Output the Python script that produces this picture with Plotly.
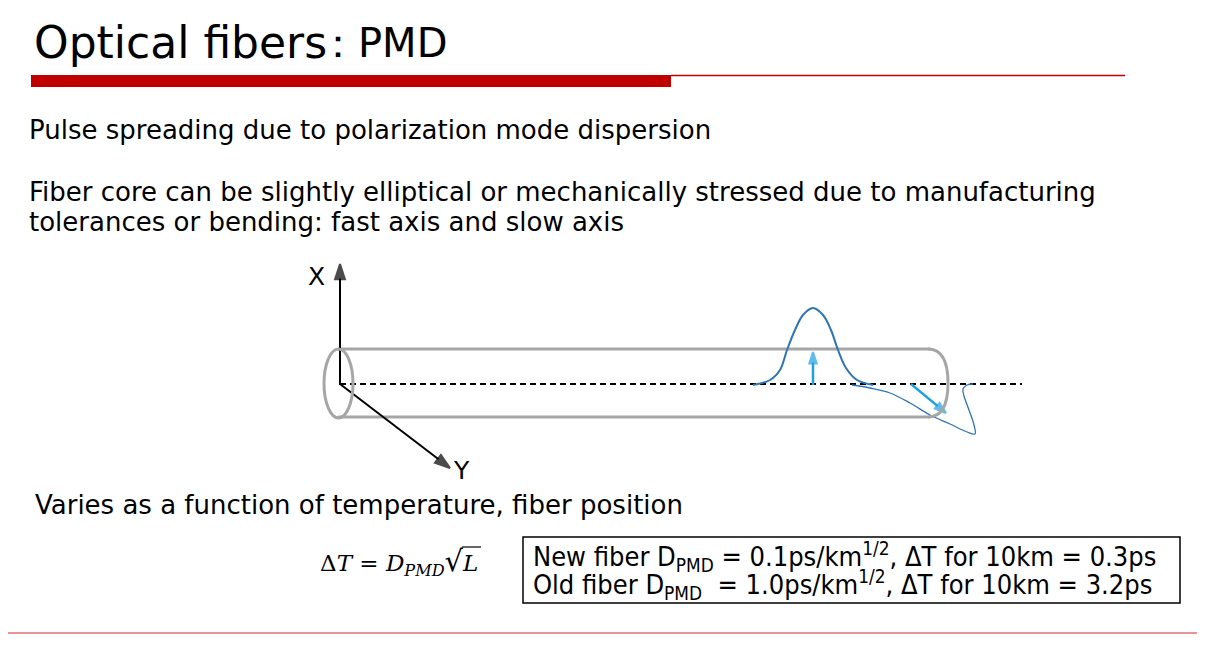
import plotly.graph_objects as go

# === Textos de la diapositiva ===
title_main = "Optical fibers"
title_sub = "：PMD"
body_lines = [
    "Pulse spreading due to polarization mode dispersion",
    "Fiber core can be slightly elliptical or mechanically stressed due to manufacturing",
    "tolerances or bending: fast axis and slow axis",
]
varies_text = "Varies as a function of temperature, fiber position"
formula_text = ("Δ<i>T</i> = <i>D<sub>PMD</sub></i>"
                "<span style='font-size:29px'>√</span><i>L</i>")
box_lines = [
    "New fiber D<sub>PMD</sub> = 0.1ps/km<sup>1/2</sup>, ΔT for 10km = 0.3ps",
    "Old fiber D<sub>PMD</sub>  = 1.0ps/km<sup>1/2</sup>, ΔT for 10km = 3.2ps",
]

# === Pulsos (coordenadas en pixeles) ===
pulse_fast_x = [753, 770, 780, 787, 795, 803, 813, 823, 831, 838, 846, 857, 873]
pulse_fast_y = [385, 380, 370, 350, 330, 315, 308, 315, 330, 350, 368, 380, 385]
pulse_slow_x = [852, 870, 890, 910, 930, 950, 967, 975, 974, 969, 964, 963, 967, 973]
pulse_slow_y = [385, 388, 393, 403, 415, 424, 432, 434, 425, 410, 396, 389, 385, 384]

W, H = 1228, 661
OFF = 8  # margen del body en la pagina
BLUE = "#2E75B6"
LIGHT_BLUE = "#1EA0E0"
GRAY = "#A6A6A6"
RED = "#C00000"

fig = go.Figure()

# Eje de la fibra (linea discontinua)
fig.add_trace(go.Scatter(x=[340, 1022], y=[384, 384], mode="lines",
                         line=dict(color="black", width=2, dash="6px,4px"),
                         hoverinfo="skip"))

# Tubo de la fibra
fig.add_trace(go.Scatter(x=[338, 930], y=[349, 349], mode="lines",
                         line=dict(color=GRAY, width=3), hoverinfo="skip"))
fig.add_trace(go.Scatter(x=[338, 930], y=[417, 417], mode="lines",
                         line=dict(color=GRAY, width=3), hoverinfo="skip"))

# Pulsos
fig.add_trace(go.Scatter(x=pulse_fast_x, y=pulse_fast_y, mode="lines",
                         line=dict(color=BLUE, width=2, shape="spline"),
                         hoverinfo="skip"))
fig.add_trace(go.Scatter(x=pulse_slow_x, y=pulse_slow_y, mode="lines",
                         line=dict(color=BLUE, width=1.3, shape="spline"),
                         hoverinfo="skip"))


def arrow(x0, y0, x1, y1, color, width, size=16):
    fig.add_trace(go.Scatter(
        x=[x0, x1], y=[y0, y1], mode="lines+markers",
        line=dict(color=color, width=width),
        marker=dict(symbol=["circle", "arrow"], size=[0, size], color=color,
                    angleref="previous", line=dict(color=color, width=2)),
        hoverinfo="skip"))


arrow(340, 385, 340, 264, "black", 2)
arrow(340, 384, 450, 468, "black", 2)
arrow(813, 385, 813, 352, LIGHT_BLUE, 2.5, 12)
arrow(911, 384, 946, 413, LIGHT_BLUE, 2.5, 12)

shapes = [
    # barra roja del titulo
    dict(type="rect", x0=31, x1=671, y0=75, y1=87, fillcolor=RED, line_width=0),
    dict(type="line", x0=671, x1=1125, y0=75.5, y1=75.5, line=dict(color=RED, width=1.5)),
    # linea inferior
    dict(type="line", x0=0, x1=1197, y0=633, y1=633, line=dict(color="#E07070", width=1.5)),
    # extremo izquierdo del tubo
    dict(type="circle", x0=324, x1=353, y0=349, y1=418, line=dict(color=GRAY, width=3)),
    # extremo derecho del tubo
    dict(type="path", path="M 928 349 Q 948 349 948 383 Q 948 417 928 417",
         line=dict(color=GRAY, width=3)),
    # recuadro
    dict(type="rect", x0=523, x1=1180, y0=537, y1=603, line=dict(color="black", width=1.5)),
    # barra de la raiz
    dict(type="line", x0=462, x1=481, y0=547, y1=547, line=dict(color="black", width=1.2)),
]


def text(x, y, s, size, family="DejaVu Sans", color="black"):
    fig.add_annotation(x=x, y=y, xref="x", yref="y", text=s, showarrow=False,
                       xanchor="left", yanchor="middle",
                       font=dict(family=family, size=size, color=color))


text(32, 42, title_main, 44, "DejaVu Sans")
text(316, 43, title_sub, 40, "DejaVu Sans")
text(27, 130, body_lines[0], 26)
text(27, 192, body_lines[1], 26)
text(27, 222, body_lines[2], 26)
text(33, 505, varies_text, 26)
text(306, 276, "X", 25)
text(451, 470, "Y", 25)
text(318, 562, formula_text, 23, "DejaVu Serif")
text(531, 556, box_lines[0], 27, "DejaVu Sans Condensed")
text(531, 584, box_lines[1], 27, "DejaVu Sans Condensed")

fig.update_layout(
    width=W, height=H,
    margin=dict(l=0, r=0, t=0, b=0),
    paper_bgcolor="white", plot_bgcolor="white",
    showlegend=False,
    shapes=shapes,
    xaxis=dict(range=[OFF, W + OFF], visible=False, fixedrange=True),
    yaxis=dict(range=[H + OFF, OFF], visible=False, fixedrange=True),
)

fig.write_html("out.html")
